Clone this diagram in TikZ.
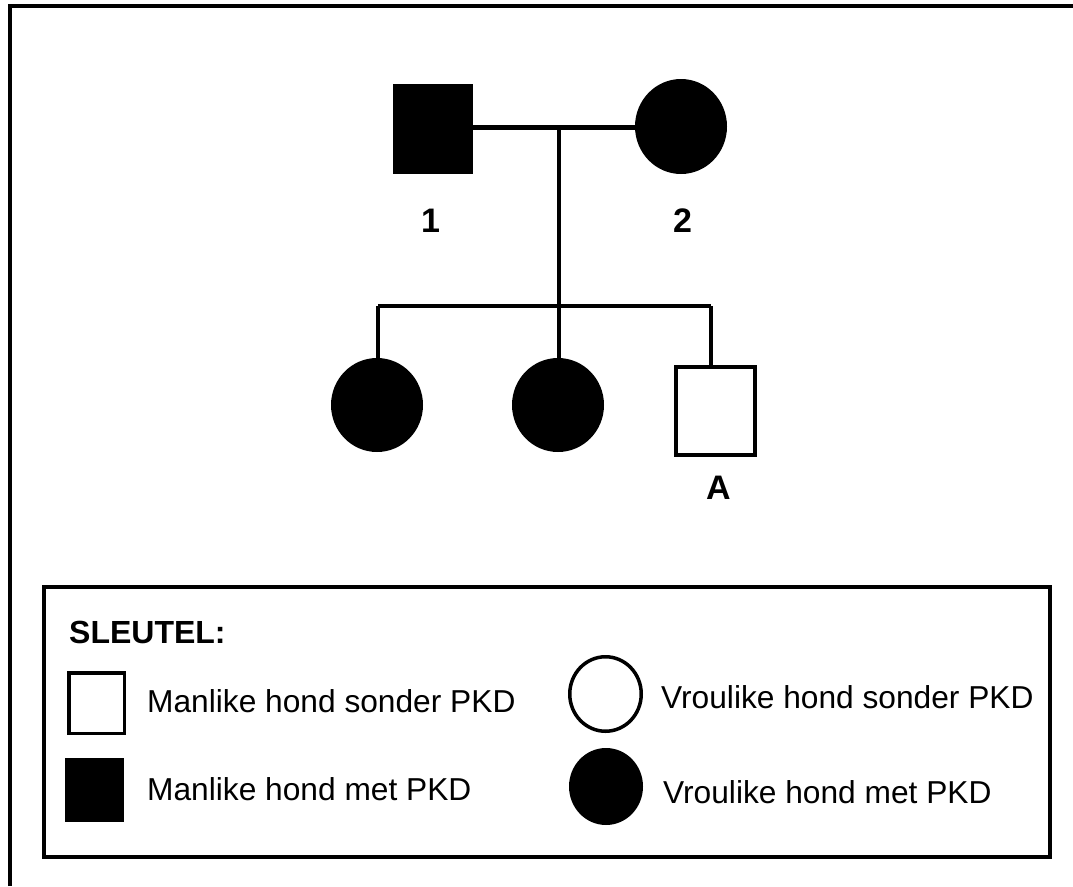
\documentclass[tikz,border=0pt]{standalone}
\usepackage{fontspec}
\setmainfont{Liberation Sans}
\usetikzlibrary{shapes.geometric}
\begin{document}
\begin{tikzpicture}[x=1pt,y=-1pt,
  conn/.style={line width=4.4pt},
  mfill/.style={rectangle,fill=black,inner sep=0pt},
  mopen/.style={rectangle,draw=black,fill=white,line width=4pt,inner sep=0pt},
  ffill/.style={ellipse,fill=black,inner sep=0pt},
  fopen/.style={ellipse,draw=black,fill=white,line width=3.5pt,inner sep=0pt},
  lbl/.style={font=\fontsize{34}{40}\selectfont\bfseries,inner sep=0pt,anchor=base},
  keytxt/.style={font=\fontsize{31.7}{38}\selectfont,inner sep=0pt,anchor=base west}]
\useasboundingbox (0,0) rectangle (1073,886);
% outer frame (only top and left edges visible)
\coordinate (fbl) at (10,886);
\coordinate (ftl) at (10,6.3);
\coordinate (ftr) at (1073,6.3);
\draw[line width=4pt] (fbl) -- (ftl) -- (ftr);
% parents
\node[mfill,minimum width=80pt,minimum height=90pt] (father) at (433,129) {};
\node[ffill,minimum width=92pt,minimum height=95pt] (mother) at (681,126.5) {};
\node[lbl] (l1) at (430.5,232) {1};
\node[lbl] (l2) at (682.5,232) {2};
% children
\node[ffill,minimum width=92pt,minimum height=94pt] (d1) at (377,405) {};
\node[ffill,minimum width=92pt,minimum height=94pt] (d2) at (558,405) {};
\node[mopen,minimum width=79pt,minimum height=88pt] (sonA) at (715.5,411) {};
\node[lbl] (lA) at (718.5,499) {A};
% connectors
\coordinate (mate) at (559,127.5);
\coordinate (sib) at (559,306);
\coordinate (sibL) at (378,306);
\coordinate (sibR) at (711,306);
\draw[conn] (father.east|-mate) -- (mother.west|-mate);
\draw[conn] (mate) -- (sib);
\draw[conn] (sibL) -- (sibR);
\draw[conn] (sibL) -- (sibL|-d1.north);
\draw[conn] (sib) -- (sib|-d2.north);
\draw[conn] (sibR) -- (sibR|-sonA.north);
% legend
\node[draw,line width=4pt,minimum width=1006pt,minimum height=270pt,inner sep=0pt] (key) at (547,722) {};
\node[font=\fontsize{32}{38}\selectfont\bfseries,inner sep=0pt,anchor=base west] (keyt) at (69,643) {SLEUTEL:};
\node[mopen,line width=3.5pt,minimum width=55.5pt,minimum height=60.5pt] (k1) at (96.5,703) {};
\node[mfill,minimum width=59pt,minimum height=64pt] (k2) at (94.5,790) {};
\node[fopen,minimum width=71.5pt,minimum height=74.5pt] (k3) at (605.5,694) {};
\node[ffill,minimum width=74pt,minimum height=77pt] (k4) at (606,786.5) {};
\node[keytxt] (t1) at (147,712) {Manlike hond sonder PKD};
\node[keytxt] (t2) at (147,800) {Manlike hond met PKD};
\node[keytxt] (t3) at (661,708) {Vroulike hond sonder PKD};
\node[keytxt] (t4) at (663,803) {Vroulike hond met PKD};
\end{tikzpicture}
\end{document}
